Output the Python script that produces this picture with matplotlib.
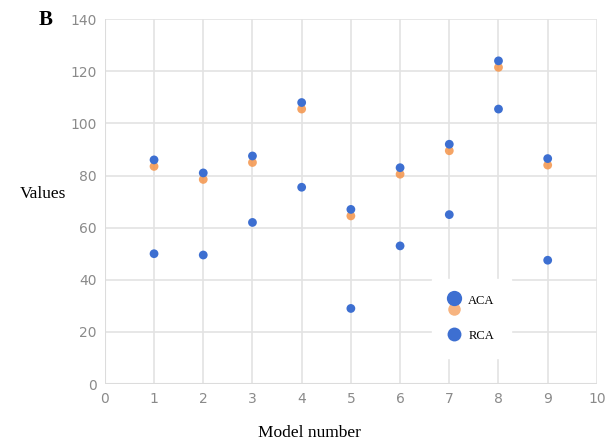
import matplotlib.pyplot as plt
from matplotlib.lines import Line2D
from matplotlib.legend_handler import HandlerBase

# veriler
model_no = [1, 2, 3, 4, 5, 6, 7, 8, 9]
aca = [86, 81, 87.5, 108, 67, 83, 92, 124, 86.5]
aca_orange = [83.5, 78.5, 85, 105.5, 64.5, 80.5, 89.5, 121.5, 84]
rca = [50, 49.5, 62, 75.5, 29, 53, 65, 105.5, 47.5]

mavi = '#3d6fd1'
turuncu = '#f4944a'


class UstUsteHandler(HandlerBase):  # ACA icin turuncu + mavi isaret ust uste
    def create_artists(self, legend, orig_handle, xdescent, ydescent, width, height, fontsize, trans):
        cx = width / 2 - xdescent
        cy = height / 2 - ydescent
        alt = Line2D([cx], [cy - 7], marker='o', ls='', color=turuncu, markersize=9,
                     markeredgewidth=0, alpha=0.7, transform=trans, zorder=1)
        ust = Line2D([cx], [cy + 1], marker='o', ls='', color=mavi, markersize=11,
                     markeredgewidth=0, transform=trans, zorder=2)
        return [alt, ust]


fig = plt.figure(figsize=(6.06, 4.45), dpi=100)
ax = fig.add_axes([0.173, 0.137, 0.812, 0.82])

ax.scatter(model_no, aca_orange, s=40, color=turuncu, alpha=0.85, edgecolors='none', zorder=3)
ax.scatter(model_no, aca, s=40, color=mavi, edgecolors='none', zorder=4)
ax.scatter(model_no, rca, s=40, color=mavi, edgecolors='none', zorder=4)

ax.set_xlim(0, 10)
ax.set_ylim(0, 140)
ax.set_xticks(range(0, 11))
ax.set_yticks(range(0, 141, 20))
ax.grid(True, color='#e3e3e3', linewidth=1.2)
ax.set_axisbelow(True)
for s in ax.spines.values():
    s.set_visible(False)
ax.axhline(0, color='#dcdcdc', linewidth=1.5, zorder=1)
ax.axvline(0, color='#dcdcdc', linewidth=1.5, zorder=1)
ax.tick_params(length=0, colors='#8a8a8a', labelsize=10, pad=6)
for lbl in ax.get_xticklabels() + ax.get_yticklabels():
    lbl.set_family(['Liberation Sans Narrow', 'DejaVu Sans'])

fig.text(0.51, 0.018, 'Model number', family='Liberation Serif', fontsize=12.5, ha='center')
fig.text(0.071, 0.565, 'Values', family='Liberation Serif', fontsize=12.5, ha='center', va='center')
fig.text(0.075, 0.955, 'B', family='Liberation Serif', fontsize=15, fontweight='bold', ha='center', va='center')

# legend
h_aca = Line2D([], [], marker='o', ls='', color=mavi)
h_rca = Line2D([], [], marker='o', ls='', color=mavi, markersize=10, markeredgewidth=0)
leg = ax.legend([h_aca, h_rca], ['ACA', 'RCA'], handler_map={h_aca: UstUsteHandler()},
                loc='center', bbox_to_anchor=(0.745, 0.18), frameon=True, fancybox=False,
                edgecolor='white', framealpha=1, prop={'family': 'Liberation Serif', 'size': 9},
                handlelength=1.0, handletextpad=0.6, labelspacing=1.8, borderpad=1.3)

fig.savefig('out.png', dpi=100)
